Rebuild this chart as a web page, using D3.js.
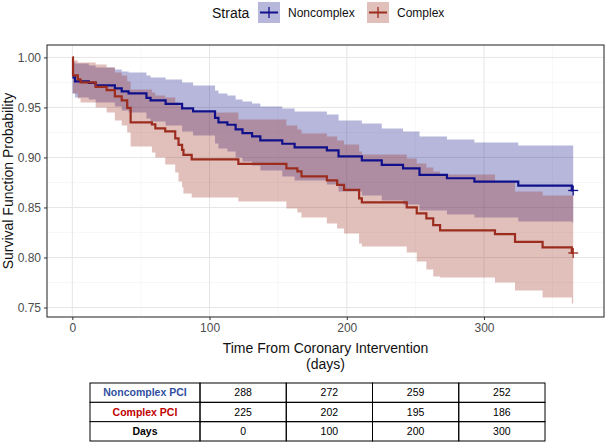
<!DOCTYPE html>
<html><head><meta charset="utf-8">
<script src="https://cdn.jsdelivr.net/npm/d3@7"></script>
<style>body{margin:0;background:#fff} svg{display:block} text{font-family:"Liberation Sans",Arial,Helvetica,sans-serif}</style>
</head><body><svg id="c" width="608" height="442"></svg>
<script>
// ---------------- data ----------------
const strata = ["Noncomplex", "Complex"];
const endTime = 365;

const blueTime  = [0, 2, 12, 17, 31, 36, 41, 54, 57, 68, 80, 88, 104, 106.5, 113, 119, 124, 131, 137, 153, 162, 185.5, 194, 211, 225.5, 241, 253, 273, 293, 325, 364];
const blueSurv  = [0.980, 0.976, 0.9746, 0.972, 0.969, 0.966, 0.964, 0.9595, 0.957, 0.9535, 0.949, 0.946, 0.9395, 0.935, 0.9327, 0.928, 0.9244, 0.921, 0.917, 0.9137, 0.910, 0.907, 0.901, 0.897, 0.8926, 0.889, 0.8825, 0.8792, 0.8758, 0.8718, 0.867];
const blueLower = [0.964, 0.960, 0.958, 0.955, 0.951, 0.947, 0.945, 0.939, 0.936, 0.932, 0.926, 0.922, 0.914, 0.909, 0.906, 0.900, 0.896, 0.892, 0.887, 0.881, 0.877, 0.873, 0.866, 0.862, 0.857, 0.853, 0.847, 0.843, 0.840, 0.836, 0.835];
const blueUpper = [0.995, 0.994, 0.992, 0.990, 0.988, 0.986, 0.985, 0.982, 0.980, 0.978, 0.975, 0.972, 0.967, 0.964, 0.962, 0.958, 0.956, 0.954, 0.951, 0.949, 0.946, 0.943, 0.937, 0.934, 0.929, 0.926, 0.921, 0.918, 0.915, 0.912, 0.912];

const redTime  = [0, 0.5, 4, 6, 17, 25, 31, 36, 40, 42.5, 58, 60.5, 67.7, 75, 77.4, 80, 81, 87, 121, 156, 164, 167, 185.5, 193, 198, 209, 211, 243.7, 251, 258, 263, 268, 308, 322.6, 342.7, 364];
const redSurv  = [1.000, 0.982, 0.978, 0.975, 0.9706, 0.9672, 0.961, 0.957, 0.9495, 0.935, 0.933, 0.929, 0.926, 0.919, 0.9126, 0.9076, 0.9026, 0.898, 0.8936, 0.889, 0.886, 0.881, 0.877, 0.8725, 0.8675, 0.859, 0.855, 0.850, 0.844, 0.839, 0.8323, 0.827, 0.8233, 0.8156, 0.810, 0.8045];
const redLower = [1.000, 0.964, 0.959, 0.955, 0.950, 0.945, 0.937, 0.932, 0.925, 0.911, 0.905, 0.900, 0.893, 0.885, 0.876, 0.870, 0.864, 0.860, 0.856, 0.849, 0.845, 0.840, 0.834, 0.829, 0.824, 0.814, 0.811, 0.805, 0.796, 0.788, 0.781, 0.780, 0.775, 0.767, 0.760, 0.754];
const redUpper = [1.000, 0.997, 0.995, 0.995, 0.993, 0.990, 0.985, 0.982, 0.976, 0.968, 0.965, 0.962, 0.960, 0.955, 0.952, 0.950, 0.948, 0.945, 0.938, 0.932, 0.928, 0.924, 0.921, 0.917, 0.913, 0.906, 0.903, 0.899, 0.894, 0.890, 0.886, 0.883, 0.875, 0.866, 0.862, 0.862];

const xTicks = [0, 100, 200, 300];
const yTicks = [0.75, 0.80, 0.85, 0.90, 0.95, 1.00];
const xMinor = [50, 150, 250, 350];
const yMinor = [0.775, 0.825, 0.875, 0.925, 0.975];

const tableRows = ["Noncomplex PCI", "Complex PCI", "Days"];
const riskNoncomplex = [288, 272, 259, 252];
const riskComplex = [225, 202, 195, 186];
const riskDays = [0, 100, 200, 300];

// ---------------- styles ----------------
const blueCol = "#10108a";
const redCol = "#9b2c1e";
const fillOp = 0.3;

const svg = d3.select("#c");
const P = {l: 47, r: 604, t: 45, b: 317};

const x = d3.scaleLinear().domain([-18.45, 387.45]).range([P.l, P.r]);
const y = d3.scaleLinear().domain([0.7405, 1.0124]).range([P.b, P.t]);

// panel background + grid
svg.append("rect").attr("x", P.l).attr("y", P.t).attr("width", P.r - P.l).attr("height", P.b - P.t).attr("fill", "#fff");
const g = svg.append("g");
g.selectAll(".xmin").data(xMinor).join("line").attr("x1", d => x(d)).attr("x2", d => x(d)).attr("y1", P.t).attr("y2", P.b).attr("stroke", "#f2f2f2").attr("stroke-width", 0.6);
g.selectAll(".ymin").data(yMinor).join("line").attr("y1", d => y(d)).attr("y2", d => y(d)).attr("x1", P.l).attr("x2", P.r).attr("stroke", "#f2f2f2").attr("stroke-width", 0.6);
g.selectAll(".xmaj").data(xTicks).join("line").attr("x1", d => x(d)).attr("x2", d => x(d)).attr("y1", P.t).attr("y2", P.b).attr("stroke", "#e6e6e6").attr("stroke-width", 1);
g.selectAll(".ymaj").data(yTicks).join("line").attr("y1", d => y(d)).attr("y2", d => y(d)).attr("x1", P.l).attr("x2", P.r).attr("stroke", "#e6e6e6").attr("stroke-width", 1);

function series(time, surv, lo, hi) {
  const pts = time.map((t, i) => ({t, s: surv[i], lo: lo[i], hi: hi[i]}));
  const last = pts[pts.length - 1];
  pts.push({t: endTime, s: last.s, lo: last.lo, hi: last.hi});
  return pts;
}
const blue = series(blueTime, blueSurv, blueLower, blueUpper);
const red = series(redTime, redSurv, redLower, redUpper);

const area = d3.area().curve(d3.curveStepAfter).x(d => x(d.t)).y0(d => y(d.lo)).y1(d => y(d.hi));
const line = d3.line().curve(d3.curveStepAfter).x(d => x(d.t)).y(d => y(d.s));

const plot = svg.append("g");
plot.append("path").datum(blue).attr("d", area).attr("fill", blueCol).attr("fill-opacity", fillOp);
plot.append("path").datum(red).attr("d", area).attr("fill", redCol).attr("fill-opacity", fillOp);
plot.append("path").datum(blue).attr("d", line).attr("fill", "none").attr("stroke", blueCol).attr("stroke-width", 2.2);
plot.append("path").datum(red).attr("d", line).attr("fill", "none").attr("stroke", redCol).attr("stroke-width", 2.2);

// censor marks at end
[[blue, blueCol], [red, redCol]].forEach(([s, c]) => {
  const d = s[s.length - 1];
  const cx = x(d.t), cy = y(d.s);
  plot.append("line").attr("x1", cx - 5).attr("x2", cx + 5).attr("y1", cy).attr("y2", cy).attr("stroke", c).attr("stroke-width", 1.3);
  plot.append("line").attr("x1", cx).attr("x2", cx).attr("y1", cy - 5).attr("y2", cy + 5).attr("stroke", c).attr("stroke-width", 1.3);
});

// panel border
svg.append("rect").attr("x", P.l).attr("y", P.t).attr("width", P.r - P.l).attr("height", P.b - P.t).attr("fill", "none").attr("stroke", "#333").attr("stroke-width", 1.1);

// axes
const xa = svg.append("g").attr("transform", `translate(0,${P.b})`).call(d3.axisBottom(x).tickValues(xTicks).tickSize(3).tickPadding(3));
const ya = svg.append("g").attr("transform", `translate(${P.l},0)`).call(d3.axisLeft(y).tickValues(yTicks).tickFormat(d3.format(".2f")).tickSize(3).tickPadding(3));
[xa, ya].forEach(a => {
  a.select(".domain").remove();
  a.selectAll(".tick line").attr("stroke", "#333");
  a.selectAll(".tick text").attr("fill", "#4d4d4d").style("font-size", "12px").style("font-family", '"Liberation Sans",Arial,sans-serif');
});

// axis titles
svg.append("text").attr("x", (P.l + P.r) / 2).attr("y", 353).attr("text-anchor", "middle").style("font-size", "14px").attr("fill", "#111").text("Time From Coronary Intervention");
svg.append("text").attr("x", (P.l + P.r) / 2).attr("y", 369).attr("text-anchor", "middle").style("font-size", "14px").attr("fill", "#111").text("(days)");
svg.append("text").attr("transform", `translate(13,${(P.t + P.b) / 2}) rotate(-90)`).attr("text-anchor", "middle").style("font-size", "14px").attr("fill", "#111").text("Survival Function Probability");

// legend
const leg = svg.append("g");
leg.append("text").attr("x", 212).attr("y", 18).style("font-size", "14px").attr("fill", "#111").text("Strata");
const legX = [258, 367];
const legTX = [288, 397];
strata.forEach((s, i) => {
  const c = i === 0 ? blueCol : redCol;
  leg.append("rect").attr("x", legX[i]).attr("y", 2).attr("width", 22).attr("height", 21).attr("fill", c).attr("fill-opacity", fillOp);
  leg.append("line").attr("x1", legX[i] + 2).attr("x2", legX[i] + 20).attr("y1", 12.5).attr("y2", 12.5).attr("stroke", c).attr("stroke-width", 2);
  leg.append("line").attr("x1", legX[i] + 11).attr("x2", legX[i] + 11).attr("y1", 7).attr("y2", 18).attr("stroke", c).attr("stroke-width", 1.3);
  leg.append("text").attr("x", legTX[i]).attr("y", 17).style("font-size", "12px").attr("fill", "#111").text(s);
});

// risk table
const tbl = svg.append("g");
const colX = d3.scaleBand().domain(riskDays).range([200, 545]);
const rowY = d3.scaleBand().domain(tableRows).range([383, 441]);
const labelX0 = 90;
const rowVals = [riskNoncomplex, riskComplex, riskDays];
const rowCols = ["#2f4f9f", "#c00000", "#000"];
tableRows.forEach((r, i) => {
  const yy = rowY(r), h = rowY.bandwidth();
  tbl.append("rect").attr("x", labelX0).attr("y", yy).attr("width", 200 - labelX0).attr("height", h).attr("fill", "#fff").attr("stroke", "#000").attr("stroke-width", 1);
  tbl.append("text").attr("x", (labelX0 + 200) / 2).attr("y", yy + h / 2 + 3.8).attr("text-anchor", "middle").style("font-size", "10.5px").style("font-weight", "bold").attr("fill", rowCols[i]).text(r);
  rowVals[i].forEach((v, j) => {
    const xx = colX(riskDays[j]);
    tbl.append("rect").attr("x", xx).attr("y", yy).attr("width", colX.bandwidth()).attr("height", h).attr("fill", "none").attr("stroke", "#000").attr("stroke-width", 1);
    tbl.append("text").attr("x", xx + colX.bandwidth() / 2).attr("y", yy + h / 2 + 3.8).attr("text-anchor", "middle").style("font-size", "10.5px").attr("fill", "#000").text(v);
  });
});
</script></body></html>
